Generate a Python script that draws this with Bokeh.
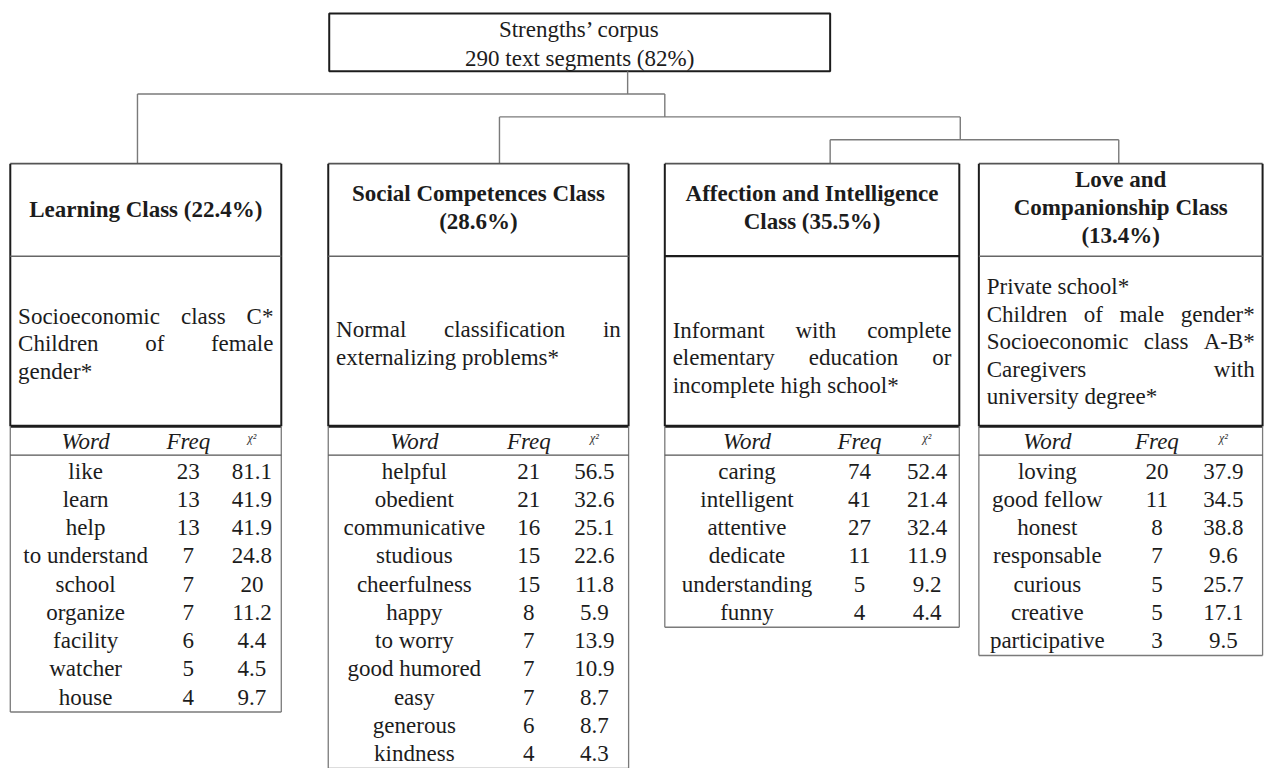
from bokeh.plotting import figure
from bokeh.models import Range1d
from bokeh.embed import file_html
from bokeh.resources import INLINE
from bokeh.core.properties import value

# ---------------- data ----------------
root_lines = ["Strengths\u2019 corpus", "290 text segments (82%)"]

class_titles = [
    ["Learning Class (22.4%)"],
    ["Social Competences Class", "(28.6%)"],
    ["Affection and Intelligence", "Class (35.5%)"],
    ["Love and", "Companionship Class", "(13.4%)"],
]

# descriptors: list of paragraphs, each a list of wrapped lines
class_descriptors = [
    [["Socioeconomic class C*", "Children of female", "gender*"]],
    [["Normal classification in", "externalizing problems*"]],
    [["Informant with complete", "elementary education or", "incomplete high school*"]],
    [["Private school*"],
     ["Children of male gender*", "Socioeconomic class A-B*", "Caregivers with", "university degree*"]],
]

table_headers = ["Word", "Freq", "\u03c7\u00b2"]

learning_words = ["like", "learn", "help", "to understand", "school", "organize",
                  "facility", "watcher", "house"]
learning_freq = [23, 13, 13, 7, 7, 7, 6, 5, 4]
learning_chi2 = [81.1, 41.9, 41.9, 24.8, 20, 11.2, 4.4, 4.5, 9.7]

social_words = ["helpful", "obedient", "communicative", "studious", "cheerfulness",
                "happy", "to worry", "good humored", "easy", "generous", "kindness"]
social_freq = [21, 21, 16, 15, 15, 8, 7, 7, 7, 6, 4]
social_chi2 = [56.5, 32.6, 25.1, 22.6, 11.8, 5.9, 13.9, 10.9, 8.7, 8.7, 4.3]

affection_words = ["caring", "intelligent", "attentive", "dedicate", "understanding", "funny"]
affection_freq = [74, 41, 27, 11, 5, 4]
affection_chi2 = [52.4, 21.4, 32.4, 11.9, 9.2, 4.4]

love_words = ["loving", "good fellow", "honest", "responsable", "curious", "creative",
              "participative"]
love_freq = [20, 11, 8, 7, 5, 5, 3]
love_chi2 = [37.9, 34.5, 38.8, 9.6, 25.7, 17.1, 9.5]

tables = [
    (learning_words, learning_freq, learning_chi2),
    (social_words, social_freq, social_chi2),
    (affection_words, affection_freq, affection_chi2),
    (love_words, love_freq, love_chi2),
]

# ---------------- layout ----------------
FONT = value("Liberation Serif")
INK = "#1c1c1c"
GREY = "#7a7a7a"

PW, PH = 1266, 768
XMAX, YMAX = 1294, 772
XS = PW / XMAX          # screen px per data unit (horizontal)

box_left = [10, 335, 679, 1000]
box_right = [287, 642, 980, 1290]
word_off = [77, 88, 84, 70]
freq_off = [182, 205, 199, 182]
chi_off = [247, 272, 268, 250]
desc_center = [345, 345, 359, 343]
stem_x = [140, 510, 848, 1143]

BOX_TOP, HEAD_BOT, DESC_BOT = 164, 257, 428
TH_Y, TH_LINE, ROW0, ROW_STEP = 443, 457, 473, 28.4
LINE_STEP = 27.6
FS = 23

# Times / Liberation Serif advance widths (per 1000 em)
W = {' ': 250, '*': 500, '-': 333, '(': 333, ')': 333, '%': 833, '.': 250,
     'a': 444, 'b': 500, 'c': 444, 'd': 500, 'e': 444, 'f': 333, 'g': 500, 'h': 500,
     'i': 278, 'j': 278, 'k': 500, 'l': 278, 'm': 778, 'n': 500, 'o': 500, 'p': 500,
     'q': 500, 'r': 333, 's': 389, 't': 278, 'u': 500, 'v': 500, 'w': 722, 'x': 500,
     'y': 500, 'z': 444,
     'A': 722, 'B': 667, 'C': 667, 'D': 722, 'E': 611, 'F': 556, 'G': 722, 'H': 722,
     'I': 333, 'J': 389, 'K': 722, 'L': 611, 'M': 889, 'N': 722, 'O': 722, 'P': 556,
     'Q': 722, 'R': 667, 'S': 556, 'T': 611, 'U': 722, 'V': 722, 'W': 944, 'X': 722,
     'Y': 722, 'Z': 611}


def tw(s, size=FS):
    """Width of a string in data units."""
    return sum(W.get(c, 500) for c in s) * size / 1000.0 / XS


p = figure(width=PW, height=PH, output_backend="svg", toolbar_location=None,
           x_range=Range1d(0, XMAX), y_range=Range1d(YMAX, 0),
           min_border=0, outline_line_color=None, background_fill_color="white")
p.axis.visible = False
p.grid.visible = False

seg = {"x0": [], "y0": [], "x1": [], "y1": [], "c": [], "w": []}


def add_seg(x0, y0, x1, y1, c, w):
    seg["x0"].append(x0); seg["y0"].append(y0)
    seg["x1"].append(x1); seg["y1"].append(y1)
    seg["c"].append(c); seg["w"].append(w)


# dendrogram connectors
add_seg(641, 71, 641, 94, GREY, 1.4)
add_seg(stem_x[0], 94, 679, 94, GREY, 1.4)
add_seg(stem_x[0], 94, stem_x[0], BOX_TOP, GREY, 1.4)
add_seg(679, 94, 679, 117, GREY, 1.4)
add_seg(stem_x[1], 117, 981, 117, GREY, 1.4)
add_seg(stem_x[1], 117, stem_x[1], BOX_TOP, GREY, 1.4)
add_seg(981, 117, 981, 140, GREY, 1.4)
add_seg(stem_x[2], 140, stem_x[3], 140, GREY, 1.4)
add_seg(stem_x[2], 140, stem_x[2], BOX_TOP, GREY, 1.4)
add_seg(stem_x[3], 140, stem_x[3], BOX_TOP, GREY, 1.4)

# root box
p.quad(left=[336], right=[848], top=[13], bottom=[71], fill_color="white",
       line_color=INK, line_width=2)
p.text(x=[592, 592], y=[29, 58], text=root_lines, text_font=FONT,
       text_font_size=f"{FS}px", text_align="center", text_baseline="middle",
       text_color=INK)

tx, ty, tt = [], [], []          # regular, left aligned
cx, cy, ct = [], [], []          # regular, centered
bx, by, bt = [], [], []          # bold, centered
ix, iy, it = [], [], []          # italic headers
gx, gy, gt = [], [], []          # small chi2 header

for k in range(4):
    L, R = box_left[k], box_right[k]
    words, freq, chi2 = tables[k]
    # class box frame
    add_seg(L, BOX_TOP, R, BOX_TOP, "#555555", 1.6)
    add_seg(L, BOX_TOP, L, DESC_BOT, INK, 2)
    add_seg(R, BOX_TOP, R, DESC_BOT, INK, 2)
    add_seg(L, HEAD_BOT, R, HEAD_BOT, INK if k == 2 else "#666666", 2.4 if k == 2 else 1.5)
    add_seg(L, DESC_BOT, R, DESC_BOT, INK, 3)
    # table frame
    bottom = ROW0 + (len(words) - 1) * ROW_STEP + 15
    add_seg(L, DESC_BOT, L, bottom, GREY, 1.3)
    add_seg(R, DESC_BOT, R, bottom, GREY, 1.3)
    add_seg(L, bottom, R, bottom, GREY, 1.3)
    add_seg(L, TH_LINE, R, TH_LINE, "#555555", 1.3)

    # title
    n = len(class_titles[k])
    for j, line in enumerate(class_titles[k]):
        bx.append((L + R) / 2)
        by.append((210 if n == 1 else 208) + (j - (n - 1) / 2) * 28.5)
        bt.append(line)

    # descriptors with justification
    lines = []
    for para in class_descriptors[k]:
        for j, line in enumerate(para):
            lines.append((line, j < len(para) - 1))
    nl = len(lines)
    left, right = L + 8, R - 8
    for j, (line, just) in enumerate(lines):
        y = desc_center[k] + (j - (nl - 1) / 2) * LINE_STEP
        parts = line.split(" ")
        if just and len(parts) > 1:
            widths = [tw(s) for s in parts]
            gap = (right - left - sum(widths)) / (len(parts) - 1)
            x = left
            for s, w in zip(parts, widths):
                tx.append(x); ty.append(y); tt.append(s)
                x += w + gap
        else:
            tx.append(left); ty.append(y); tt.append(line)

    # table header
    ix += [L + word_off[k], L + freq_off[k]]
    iy += [TH_Y, TH_Y]
    it += table_headers[:2]
    gx.append(L + chi_off[k]); gy.append(TH_Y - 3); gt.append(table_headers[2])

    # table rows
    for j, (w, f, c) in enumerate(zip(words, freq, chi2)):
        y = ROW0 + j * ROW_STEP
        cx += [L + word_off[k], L + freq_off[k], L + chi_off[k]]
        cy += [y, y, y]
        ct += [w, str(f), f"{c:g}"]

p.segment(x0="x0", y0="y0", x1="x1", y1="y1", line_color="c", line_width="w", source=seg)

common = dict(text_font=FONT, text_font_size=f"{FS}px", text_baseline="middle",
              text_color=INK)
p.text(x=tx, y=ty, text=tt, text_align="left", **common)
p.text(x=cx, y=cy, text=ct, text_align="center", **common)
p.text(x=bx, y=by, text=bt, text_align="center", text_font_style="bold", **common)
p.text(x=ix, y=iy, text=it, text_align="center", text_font_style="italic", **common)
p.text(x=gx, y=gy, text=gt, text_align="center", text_font=FONT, text_font_size="12px",
       text_font_style="italic", text_baseline="middle", text_color="#333333")

open("out.html", "w").write(file_html(p, INLINE))
